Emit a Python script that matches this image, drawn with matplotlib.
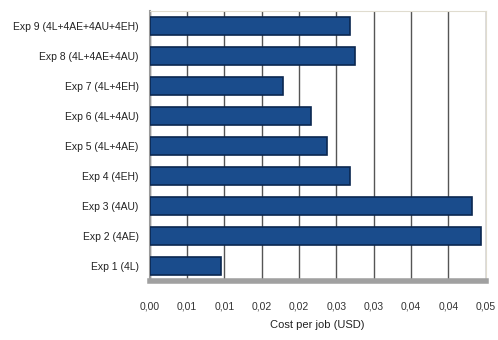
import matplotlib
matplotlib.use("Agg")
import matplotlib.pyplot as plt
from matplotlib.ticker import MultipleLocator, FuncFormatter
from decimal import Decimal, ROUND_HALF_UP

experiments = [
    "Exp 1 (4L)",
    "Exp 2 (4AE)",
    "Exp 3 (4AU)",
    "Exp 4 (4EH)",
    "Exp 5 (4L+4AE)",
    "Exp 6 (4L+4AU)",
    "Exp 7 (4L+4EH)",
    "Exp 8 (4L+4AE+4AU)",
    "Exp 9 (4L+4AE+4AU+4EH)",
]
cost_per_job = [0.0095, 0.0444, 0.0432, 0.0268, 0.0238, 0.0216, 0.0178, 0.0275, 0.0268]

plt.rcParams["font.family"] = ["Liberation Sans", "DejaVu Sans"]

fig = plt.figure(figsize=(4.98, 3.40), dpi=100)
ax = fig.add_axes([0.301, 0.174, 0.674, 0.794])

y = range(len(experiments))
ax.barh(y, cost_per_job, height=0.6, color="#1a4c8c",
        edgecolor="#0b2750", linewidth=1.2, zorder=3)

ax.set_xlim(0, 0.045)
ax.set_ylim(-0.5, len(experiments) - 0.5)
ax.set_yticks(list(y))
ax.set_yticklabels(experiments, fontsize=7.5, color="#222222")


def comma_fmt(v, pos):
    d = Decimal(str(round(v, 4))).quantize(Decimal("0.01"), rounding=ROUND_HALF_UP)
    return str(d).replace(".", ",")


ax.xaxis.set_major_locator(MultipleLocator(0.005))
ax.xaxis.set_major_formatter(FuncFormatter(comma_fmt))
ax.tick_params(axis="x", labelsize=7.5, colors="#333333", length=0, pad=15)
ax.tick_params(axis="y", length=0, pad=8)
ax.set_xlabel("Cost per job (USD)", fontsize=8, color="#222222", labelpad=6)

ax.grid(axis="x", color="#555555", linewidth=1.0, zorder=0)
ax.set_facecolor("white")
for side in ["top", "right"]:
    ax.spines[side].set_color("#e0dccf")
    ax.spines[side].set_linewidth(0.8)
ax.spines["left"].set_color("#9a9a9a")
ax.spines["left"].set_linewidth(1.5)
ax.spines["bottom"].set_color("#a0a0a0")
ax.spines["bottom"].set_linewidth(4)

fig.savefig("out.png", dpi=100)
